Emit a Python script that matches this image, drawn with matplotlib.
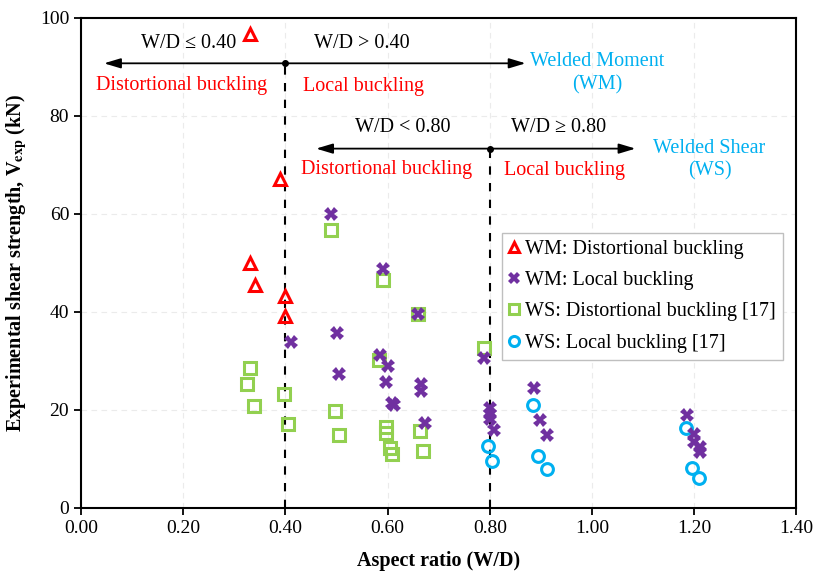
import numpy as np
import matplotlib.pyplot as plt

plt.rcParams['font.family'] = ['Liberation Serif', 'DejaVu Serif']
plt.rcParams['mathtext.fontset'] = 'stix'

# WM: distortional buckling
wm_dist_x = [0.33, 0.39, 0.33, 0.34, 0.40, 0.40]
wm_dist_y = [96.7, 67.0, 50.0, 45.5, 43.2, 39.2]

# WM: local buckling
wm_local_x = [0.49, 0.59, 0.66, 0.41, 0.50, 0.586, 0.60, 0.505, 0.597, 0.665, 0.665,
              0.609, 0.612, 0.673, 0.788, 0.80, 0.80, 0.80, 0.808, 0.886, 0.899, 0.911,
              1.185, 1.199, 1.199, 1.211, 1.211]
wm_local_y = [60.0, 48.7, 39.5, 33.8, 35.6, 31.2, 28.9, 27.4, 25.6, 25.3, 23.8,
              21.5, 21.0, 17.3, 30.5, 20.3, 19.2, 18.1, 15.9, 24.4, 17.9, 14.9,
              19.0, 15.1, 13.5, 12.4, 11.4]

# WS: distortional buckling [17]
ws_dist_x = [0.49, 0.59, 0.66, 0.583, 0.33, 0.325, 0.338, 0.398, 0.405, 0.497, 0.505,
             0.597, 0.597, 0.605, 0.609, 0.664, 0.669, 0.788]
ws_dist_y = [56.7, 46.6, 39.6, 30.1, 28.5, 25.3, 20.8, 23.2, 17.2, 19.8, 14.8,
             16.6, 15.2, 12.2, 11.1, 15.6, 11.6, 32.6]

# WS: local buckling [17]
ws_local_x = [0.797, 0.805, 0.885, 0.895, 0.911, 1.184, 1.196, 1.209]
ws_local_y = [12.7, 9.6, 21.1, 10.5, 7.9, 16.4, 8.2, 6.1]

limit_1 = [0.40, 90.7]
limit_2 = [0.80, 73.3]

fig = plt.figure(figsize=(8.14, 5.72), dpi=100)
ax = fig.add_axes([0.0995, 0.112, 0.879, 0.857])

ax.grid(True, color='#ebebeb', linestyle=(0, (5, 4)), linewidth=0.8)
ax.set_axisbelow(True)

# boundary lines
ax.plot([limit_1[0], limit_1[0]], [0, limit_1[1]], color='black', linestyle=(0, (4, 4)), linewidth=1.5, zorder=2)
ax.plot([limit_2[0], limit_2[0]], [0, limit_2[1]], color='black', linestyle=(0, (4, 4)), linewidth=1.5, zorder=2)
ax.plot([limit_1[0]], [limit_1[1]], 'o', color='black', markersize=4, zorder=5)
ax.plot([limit_2[0]], [limit_2[1]], 'o', color='black', markersize=4, zorder=5)

arrow = dict(arrowstyle='-|>,head_length=1.0,head_width=0.3', color='black', lw=1.3, shrinkA=0, shrinkB=0)
ax.annotate('', xy=(0.045, limit_1[1]), xytext=(limit_1[0] - 0.005, limit_1[1]), arrowprops=arrow)
ax.annotate('', xy=(0.87, limit_1[1]), xytext=(limit_1[0] + 0.005, limit_1[1]), arrowprops=arrow)
ax.annotate('', xy=(0.46, limit_2[1]), xytext=(limit_2[0] - 0.005, limit_2[1]), arrowprops=arrow)
ax.annotate('', xy=(1.085, limit_2[1]), xytext=(limit_2[0] + 0.005, limit_2[1]), arrowprops=arrow)

fs = 14.5
ax.text(0.21, 94.8, 'W/D ≤ 0.40', ha='center', va='center', fontsize=fs)
ax.text(0.55, 94.8, 'W/D > 0.40', ha='center', va='center', fontsize=fs)
ax.text(0.197, 86.2, 'Distortional buckling', ha='center', va='center', fontsize=fs, color='red')
ax.text(0.553, 85.9, 'Local buckling', ha='center', va='center', fontsize=fs, color='red')
ax.text(1.01, 88.7, 'Welded Moment\n(WM)', ha='center', va='center', fontsize=fs, color='#00B0F0', linespacing=1.25)
ax.text(0.63, 77.6, 'W/D < 0.80', ha='center', va='center', fontsize=fs)
ax.text(0.935, 77.6, 'W/D ≥ 0.80', ha='center', va='center', fontsize=fs)
ax.text(0.598, 69.0, 'Distortional buckling', ha='center', va='center', fontsize=fs, color='red')
ax.text(0.946, 68.8, 'Local buckling', ha='center', va='center', fontsize=fs, color='red')
ax.text(1.23, 71.0, 'Welded Shear\n(WS)', ha='center', va='center', fontsize=fs, color='#00B0F0', linespacing=1.25)

ax.plot(wm_dist_x, wm_dist_y, '^', markersize=8.5, markerfacecolor='none', markeredgecolor='#FF0000',
        markeredgewidth=2.2, linestyle='none', label='WM: Distortional buckling', zorder=4)
ax.plot(wm_local_x, wm_local_y, 'X', markersize=9.5, color='#7030A0', markeredgewidth=0,
        linestyle='none', label='WM: Local buckling', zorder=4)
ax.plot(ws_dist_x, ws_dist_y, 's', markersize=8.5, markerfacecolor='none', markeredgecolor='#92D050',
        markeredgewidth=2.2, linestyle='none', label='WS: Distortional buckling [17]', zorder=3)
ax.plot(ws_local_x, ws_local_y, 'o', markersize=8.5, markerfacecolor='none', markeredgecolor='#00B0F0',
        markeredgewidth=2.2, linestyle='none', label='WS: Local buckling [17]', zorder=3)

ax.set_xlim(0, 1.4)
ax.set_ylim(0, 100)
ax.set_xticks(np.arange(0, 1.41, 0.2))
ax.set_xticklabels(['%.2f' % v for v in np.arange(0, 1.41, 0.2)])
ax.set_yticks(np.arange(0, 101, 20))
ax.tick_params(labelsize=14, direction='out', length=5, width=1.3)
for s in ax.spines.values():
    s.set_linewidth(1.5)

ax.set_xlabel('Aspect ratio (W/D)', fontsize=14.5, fontweight='bold', labelpad=10)
ax.set_ylabel(r'Experimental shear strength, V$_{\mathbf{exp}}$ (kN)', fontsize=14.5, fontweight='bold', labelpad=8)

leg = ax.legend(loc='upper left', bbox_to_anchor=(0.5885, 0.561), borderaxespad=0, fontsize=14.5,
                handlelength=0.5, handletextpad=0.3, borderpad=0.35, labelspacing=0.6, fancybox=False,
                framealpha=1, edgecolor='#bfbfbf', markerscale=0.85)

fig.savefig('out.png', dpi=100)
